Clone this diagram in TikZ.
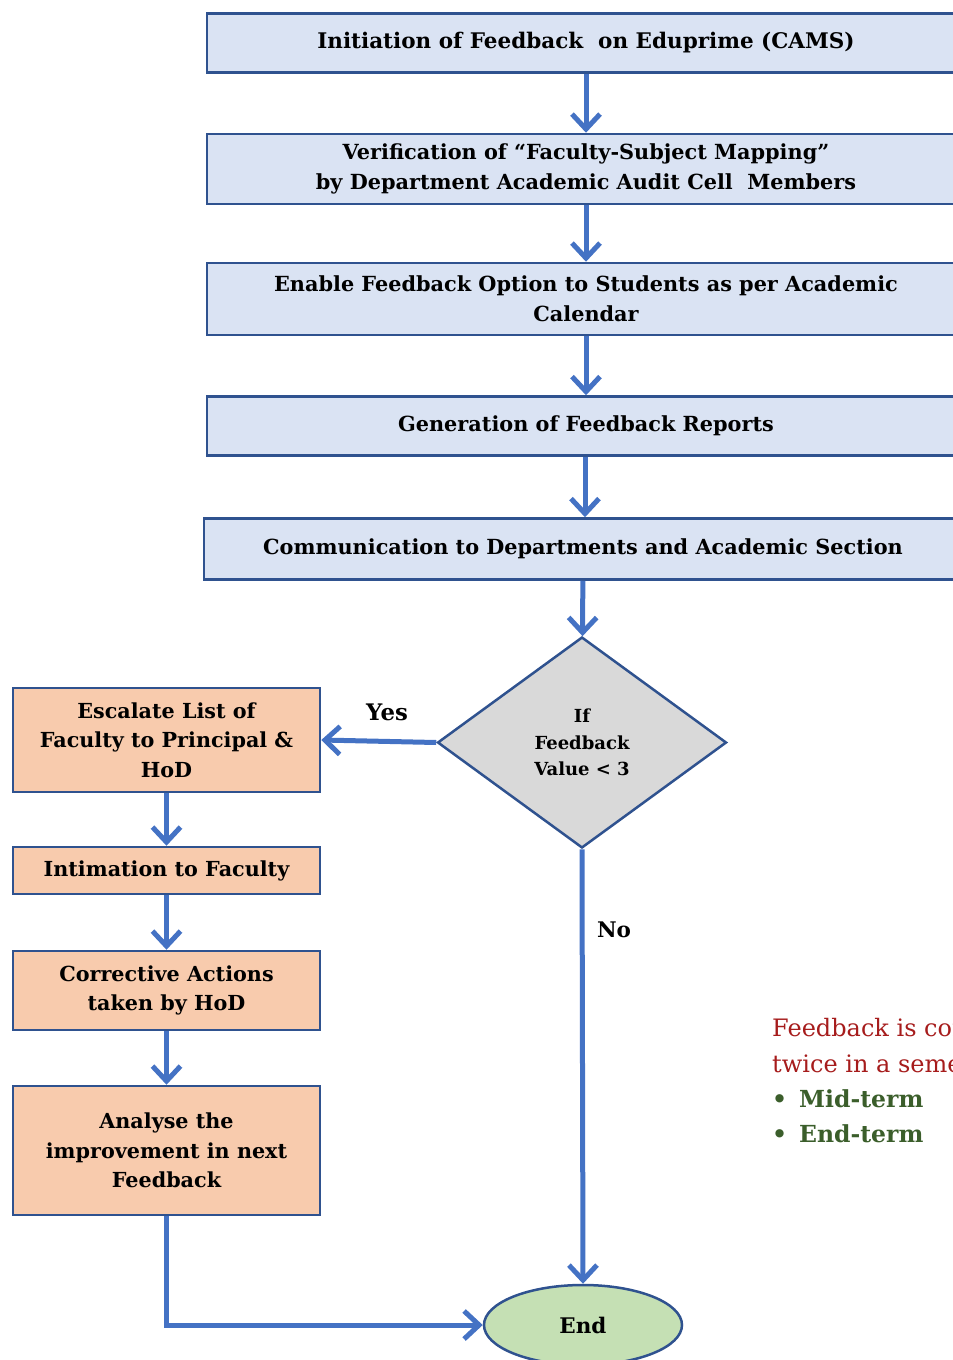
\documentclass[tikz,border=0pt]{standalone}
\usepackage{fontspec}
\setmainfont{DejaVu Serif}
\usetikzlibrary{shapes.geometric, arrows.meta}
\definecolor{boxblue}{HTML}{DAE3F3}
\definecolor{edgeblue}{HTML}{2F528F}
\definecolor{arrowblue}{HTML}{4472C4}
\definecolor{boxorange}{HTML}{F8CBAD}
\definecolor{boxgray}{HTML}{D9D9D9}
\definecolor{boxgreen}{HTML}{C5E0B4}
\definecolor{notered}{HTML}{A61C1C}
\definecolor{notegreen}{HTML}{3B5E2B}
\tikzset{>={Straight Barb[length=15pt, width=28pt]},
  stage/.style={draw=edgeblue, line width=2.5pt, fill=boxblue, align=center,
    font=\bfseries\fontsize{20.8}{30}\selectfont, minimum width=758pt, inner sep=0pt},
  action/.style={draw=edgeblue, line width=2.5pt, fill=boxorange, align=center,
    font=\bfseries\fontsize{20.7}{29.5}\selectfont, minimum width=307pt, inner sep=0pt},
  flow/.style={->, draw=arrowblue, line width=5pt},
  tag/.style={font=\bfseries\fontsize{21.5}{24}\selectfont}}

\begin{document}
\begin{tikzpicture}[x=1pt, y=-1pt]
    \useasboundingbox (0,0) rectangle (953,1360);
    \clip (0,0) rectangle (953,1360);
    % main column
    \node[stage, minimum height=59pt, font=\bfseries\fontsize{21.5}{30}\selectfont] (init) at (586,43) {Initiation of Feedback\ \ on Eduprime (CAMS)};
    \node[stage, minimum height=70pt] (verify) at (586,169) {Verification of ``Faculty-Subject Mapping''\\by Department Academic Audit Cell\ \ Members};
    \node[stage, minimum height=72pt] (enable) at (586,299) {Enable Feedback Option to Students as per Academic\\Calendar};
    \node[stage, minimum height=59pt] (report) at (586,426) {Generation of Feedback Reports};
    \node[stage, minimum height=61pt] (comm) at (583,549) {Communication to Departments and Academic Section};
    \node[diamond, draw=edgeblue, line width=2.5pt, fill=boxgray, minimum width=289pt, minimum height=211pt,
      inner sep=0pt, align=center, font=\bfseries\fontsize{18}{26.5}\selectfont] (check) at (582,742.5) {If\\Feedback\\Value < 3};
    % left column
    \node[action, minimum height=104pt] (escalate) at (166.5,740) {Escalate List of\\Faculty to Principal \&\\HoD};
    \node[action, minimum height=47pt] (intimate) at (166.5,870.5) {Intimation to Faculty};
    \node[action, minimum height=79pt] (correct) at (166.5,990.5) {Corrective Actions\\taken by HoD};
    \node[action, minimum height=129pt] (analyse) at (166.5,1150.5) {Analyse the\\improvement in next\\Feedback};
    \node[ellipse, draw=edgeblue, line width=2.5pt, fill=boxgreen, minimum width=198pt, minimum height=80pt,
      inner sep=0pt, font=\bfseries\fontsize{21.5}{24}\selectfont] (end) at (583,1325) {End};
    % connectors
    \draw[flow] (init) -- (verify);
    \draw[flow] (verify) -- (enable);
    \draw[flow] (enable) -- (report);
    \draw[flow] (report.south -| 585,0) -- (comm.north -| 585,0);
    \draw[flow] (comm) -- (check);
    \draw[flow] (check.west) -- (escalate.east);
    \draw[flow] (escalate) -- (intimate);
    \draw[flow] (intimate) -- (correct);
    \draw[flow] (correct) -- (analyse);
    \draw[flow] (check.south) -- (end.north);
    \draw[flow] (analyse.south) |- (end.west);
    \node[tag, font=\bfseries\fontsize{22.8}{24}\selectfont] (yes) at (387,712) {Yes};
    \node[tag] (no) at (614,930) {No};
    % note
    \node[anchor=north west, align=left, text=notered, font=\fontsize{24}{36}\selectfont, inner sep=0pt]
      (note) at (772,1018) {Feedback is conducted\\twice in a semester};
    \node[anchor=north west, align=left, text=notegreen, font=\bfseries\fontsize{23.5}{35}\selectfont, inner sep=0pt]
      (terms) at (772,1089) {\textbullet\hspace{12pt}Mid-term\\\textbullet\hspace{12pt}End-term};
\end{tikzpicture}
\end{document}
